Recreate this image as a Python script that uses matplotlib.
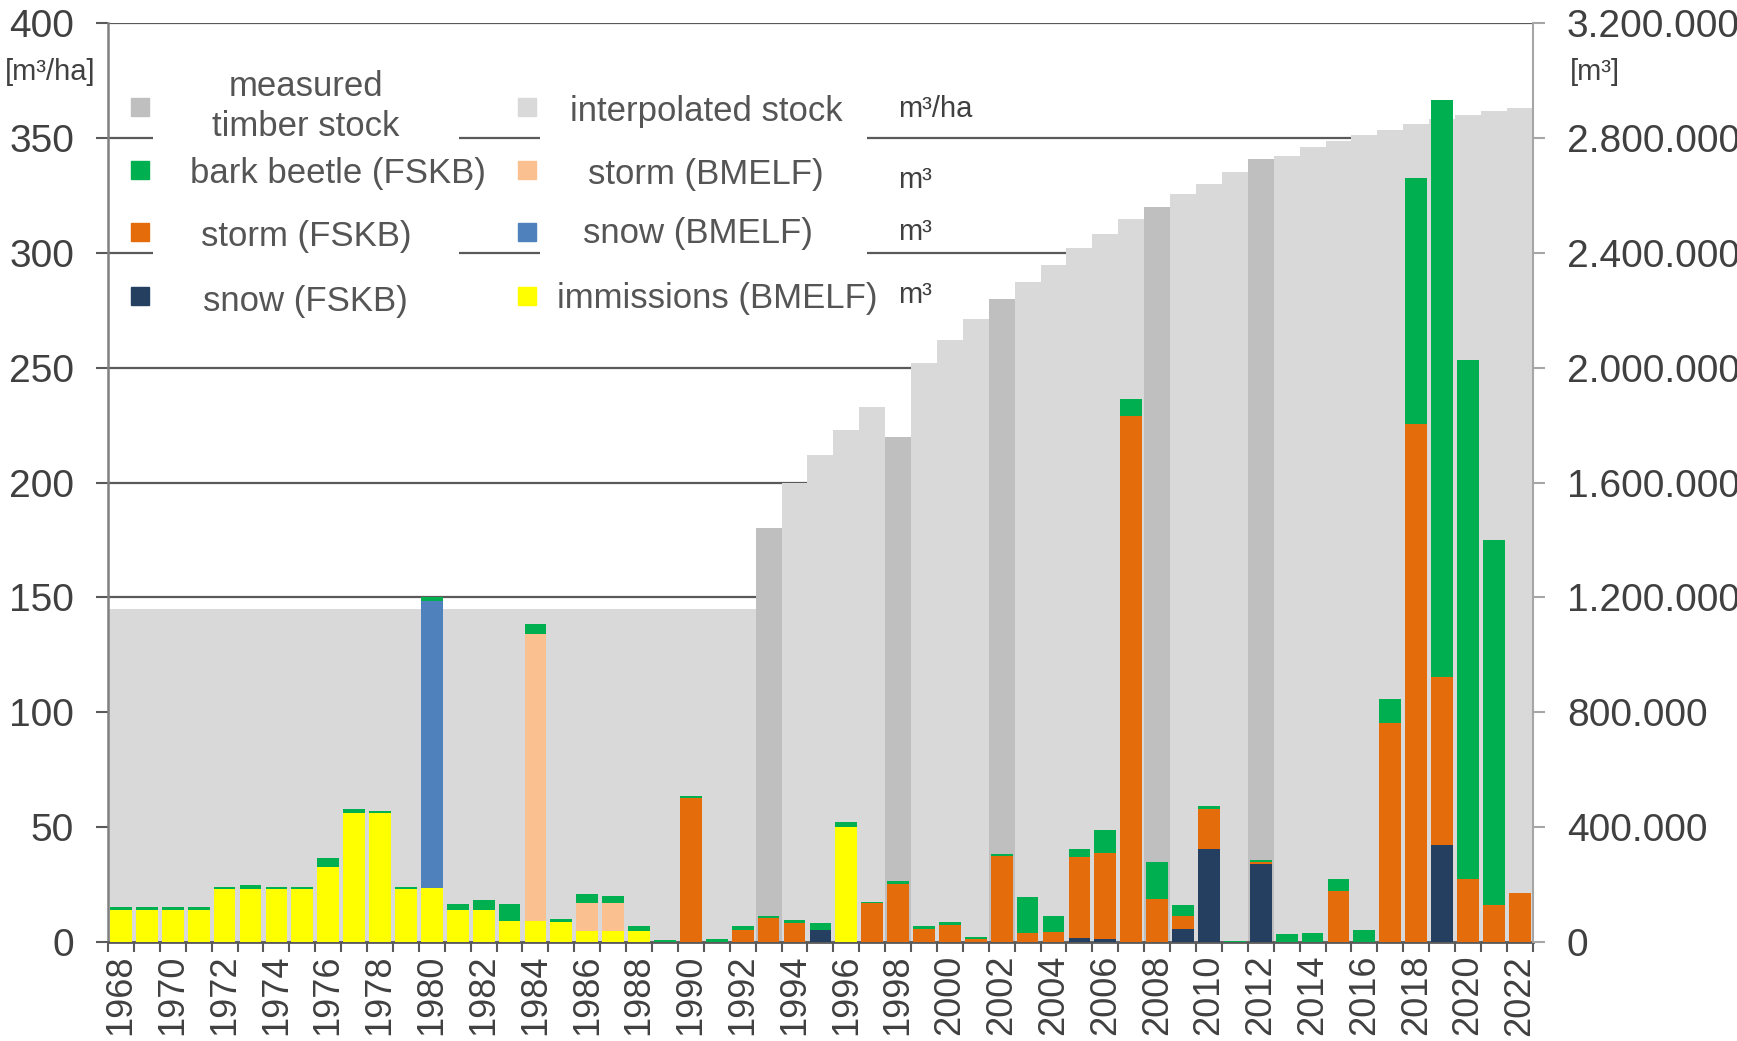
import matplotlib
matplotlib.use("Agg")
import matplotlib.pyplot as plt
from matplotlib.patches import Rectangle
from matplotlib.ticker import FuncFormatter, FixedLocator
import numpy as np

plt.rcParams['font.family'] = ['Liberation Sans', 'DejaVu Sans']

# ---- data -------------------------------------------------------------
years = list(range(1968, 2023))

# timber stock in m³/ha (left axis)
stock = [145, 145, 145, 145, 145, 145, 145, 145, 145, 145,
         145, 145, 145, 145, 145, 145, 145, 145, 145, 145,
         145, 145, 145, 145, 145,
         180, 200, 212, 223, 233, 220, 252, 262, 271, 280,
         287, 294.5, 302, 308, 314.5, 320, 325.5, 330, 335, 340.5,
         342, 346, 348.5, 351, 353.5, 356, 358, 359.7, 361.4, 363]
measured_years = [1993, 1998, 2002, 2008, 2012]

# damaged timber volumes in m³ (right axis), 1968 ... 2022
immissions_bmelf = [112000, 112000, 112000, 112000, 184000, 186000, 184000, 184000, 261000, 449000,
                    449000, 184000, 188000, 114000, 114000, 74000, 74000, 72000, 39000, 39000,
                    39000, 0, 0, 0, 0, 0, 0, 0, 402000, 0,
                    0, 0, 0, 0, 0, 0, 0, 0, 0, 0,
                    0, 0, 0, 0, 0, 0, 0, 0, 0, 0,
                    0, 0, 0, 0, 0]
snow_fskb = [0, 0, 0, 0, 0, 0, 0, 0, 0, 0,
             0, 0, 0, 0, 0, 0, 0, 0, 0, 0,
             0, 0, 0, 0, 0, 0, 0, 43000, 0, 0,
             0, 0, 0, 0, 0, 0, 0, 14000, 10000, 0,
             0, 46000, 326000, 0, 271000, 0, 0, 0, 0, 0,
             0, 338000, 0, 0, 0]
storm_fskb = [0, 0, 0, 0, 0, 0, 0, 0, 0, 0,
              0, 0, 0, 0, 0, 0, 0, 0, 0, 0,
              0, 0, 502000, 0, 43000, 83000, 66000, 0, 0, 136000,
              203000, 47000, 60000, 11000, 302000, 31000, 37000, 284000, 302000, 1832000,
              150000, 45000, 137000, 0, 7000, 0, 0, 178000, 0, 763000,
              1805000, 586000, 220000, 129000, 171000]
storm_bmelf = [0, 0, 0, 0, 0, 0, 0, 0, 0, 0,
               0, 0, 0, 0, 0, 0, 998000, 0, 98000, 98000,
               0, 0, 0, 0, 0, 0, 0, 0, 0, 0,
               0, 0, 0, 0, 0, 0, 0, 0, 0, 0,
               0, 0, 0, 0, 0, 0, 0, 0, 0, 0,
               0, 0, 0, 0, 0]
snow_bmelf = [0, 0, 0, 0, 0, 0, 0, 0, 0, 0,
              0, 0, 1001000, 0, 0, 0, 0, 0, 0, 0,
              0, 0, 0, 0, 0, 0, 0, 0, 0, 0,
              0, 0, 0, 0, 0, 0, 0, 0, 0, 0,
              0, 0, 0, 0, 0, 0, 0, 0, 0, 0,
              0, 0, 0, 0, 0]
bark_beetle_fskb = [10000, 10000, 10000, 10000, 10000, 12000, 10000, 10000, 34000, 14000,
                    9000, 10000, 11000, 19000, 33000, 59000, 34000, 8000, 30000, 25000,
                    18000, 7000, 6000, 10000, 14000, 10000, 11000, 23000, 18000, 4000,
                    11000, 10000, 10000, 9000, 7000, 126000, 54000, 28000, 78000, 57000,
                    130000, 38000, 10000, 6000, 7000, 29000, 34000, 43000, 42000, 82000,
                    854000, 2006000, 1808000, 1270000, 0]

# ---- colours -------------------------------------------------------------
C_MEASURED = '#BFBFBF'
C_INTERP = '#D9D9D9'
C_BEETLE = '#00B050'
C_STORM_F = '#E46C0A'
C_SNOW_F = '#243F60'
C_STORM_B = '#FAC090'
C_SNOW_B = '#4F81BD'
C_IMM = '#FFFF00'
TXT = '#404040'
LEG_TXT = '#555555'
GRID = '#5A5A5A'

# ---- figure ------------------------------------------------------------------
fig = plt.figure(figsize=(17.37, 10.41), dpi=100)
ax = fig.add_axes([0.0622, 0.0948, 0.8202, 0.8834])
x = np.arange(len(years))

stock_colors = [C_MEASURED if y in measured_years else C_INTERP for y in years]
ax.bar(x, stock, width=1.0, color=stock_colors, linewidth=0, zorder=2)

ax.set_xlim(-0.5, len(years) - 0.5)
ax.set_ylim(0, 400)
ax.set_yticks(range(0, 401, 50))
ax.grid(axis='y', color=GRID, linewidth=1.6, zorder=0)
ax.grid(axis='x', visible=False)
ax.set_axisbelow(True)

# year labels under every second bar, tick marks at bar boundaries
ax.set_xticks(x[::2])
ax.set_xticklabels([str(y) for y in years[::2]], rotation=90)
ax.xaxis.set_minor_locator(FixedLocator(np.arange(-0.5, len(years), 1.0)))
ax.tick_params(axis='x', which='major', length=0, pad=9, labelsize=26, labelcolor=TXT)
ax.tick_params(axis='x', which='minor', length=7.5, width=1.5, color=GRID)
ax.tick_params(axis='y', length=8.5, width=1.5, color=GRID, pad=16, labelsize=28, labelcolor=TXT)

for side in ('top', 'right'):
    ax.spines[side].set_visible(False)
ax.spines['left'].set_color('#808080')
ax.spines['left'].set_linewidth(1.8)
ax.spines['bottom'].set_color(GRID)
ax.spines['bottom'].set_linewidth(2.0)

# damage volumes on the right axis
ax2 = ax.twinx()
ax2.set_ylim(0, 3200000)
ax2.set_yticks(range(0, 3200001, 400000))
ax2.yaxis.set_major_formatter(FuncFormatter(lambda v, p: f"{int(v):,}".replace(",", ".")))
ax2.tick_params(axis='y', length=8.5, width=1.5, color='#A6A6A6', pad=16, labelsize=28, labelcolor=TXT)
for side in ('top', 'left', 'bottom'):
    ax2.spines[side].set_visible(False)
ax2.spines['right'].set_color('#A6A6A6')
ax2.spines['right'].set_linewidth(1.5)

series = [
    (immissions_bmelf, C_IMM),
    (snow_fskb, C_SNOW_F),
    (storm_fskb, C_STORM_F),
    (storm_bmelf, C_STORM_B),
    (snow_bmelf, C_SNOW_B),
    (bark_beetle_fskb, C_BEETLE),
]
bottom = np.zeros(len(years))
for values, color in series:
    vals = np.array(values, dtype=float)
    ax2.bar(x, vals, width=0.84, bottom=bottom, color=color, linewidth=0, zorder=2)
    bottom += vals

# ---- legend ------------------------------------------------------------
tr = ax2.transAxes
for x0, x1 in ((0.0316, 0.2460), (0.3030, 0.5330)):
    ax2.add_patch(Rectangle((x0, 0.676), x1 - x0, 0.283, transform=tr,
                            facecolor='white', edgecolor='none', zorder=3))

markers = [
    (0.0222, 0.9087, C_MEASURED), (0.0222, 0.8398, C_BEETLE),
    (0.0222, 0.7721, C_STORM_F), (0.0222, 0.7031, C_SNOW_F),
    (0.2939, 0.9087, C_INTERP), (0.2939, 0.8398, C_STORM_B),
    (0.2939, 0.7721, C_SNOW_B), (0.2939, 0.7031, C_IMM),
]
for mx, my, mc in markers:
    ax2.plot([mx], [my], marker='s', markersize=12.5, color=mc, linestyle='none',
             transform=tr, clip_on=False, zorder=4)

labels = [
    (0.139, 0.9085, 'measured\ntimber stock'),
    (0.1612, 0.8365, 'bark beetle (FSKB)'),
    (0.139, 0.7673, 'storm (FSKB)'),
    (0.1386, 0.6966, 'snow (FSKB)'),
    (0.4201, 0.9032, 'interpolated stock'),
    (0.4196, 0.8344, 'storm (BMELF)'),
    (0.4142, 0.7710, 'snow (BMELF)'),
    (0.4277, 0.7003, 'immissions (BMELF)'),
]
for lx, ly, txt in labels:
    ax2.text(lx, ly, txt, transform=tr, ha='center', va='center', fontsize=25,
             color=LEG_TXT, linespacing=1.28, zorder=5)

units = [(0.9058, 'm³/ha'), (0.829, 'm³'), (0.7727, 'm³'), (0.7039, 'm³')]
for uy, txt in units:
    ax2.text(0.5544, uy, txt, transform=tr, ha='left', va='center', fontsize=21,
             color=TXT, zorder=5)

fig.text(0.003, 0.931, '[m³/ha]', ha='left', va='center', fontsize=21, color=TXT)
fig.text(0.904, 0.931, '[m³]', ha='left', va='center', fontsize=21, color=TXT)

fig.savefig('out.png', dpi=100, facecolor='white')
